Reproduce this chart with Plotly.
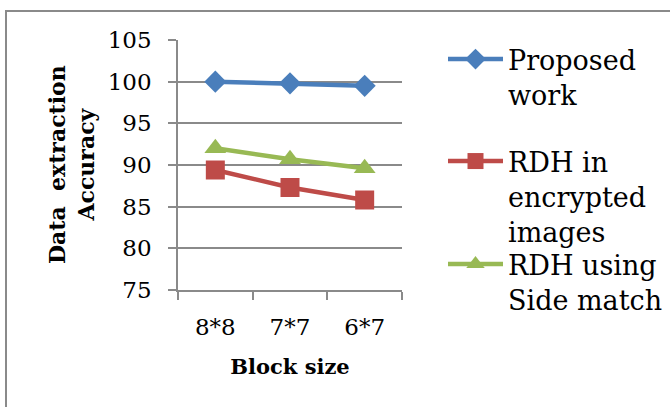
import plotly.graph_objects as go

categories = ["8*8", "7*7", "6*7"]
proposed = [100.0, 99.8, 99.5]
rdh_encrypted = [89.4, 87.3, 85.8]
rdh_side = [92.0, 90.7, 89.6]
y_ticks = [75, 80, 85, 90, 95, 100, 105]

FONT = "DejaVu Serif"
GRID = "#8a8a8a"

L, R, T, B = 178, 268, 40, 117
W, H = 670, 407
pw = W - L - R
ph = H - T - B

def px(x):
    return (x - L) / pw

def py(y):
    return (H - B - y) / ph

fig = go.Figure()
fig.add_trace(go.Scatter(x=categories, y=proposed, name="Proposed<br>work",
                         mode="lines+markers", line=dict(color="#4a7ebb", width=4.5),
                         marker=dict(symbol="diamond", size=17, color="#4a7ebb"),
                         legend="legend"))
fig.add_trace(go.Scatter(x=categories, y=rdh_encrypted, name="RDH in<br>encrypted<br>images",
                         mode="lines+markers", line=dict(color="#be4b48", width=4.5),
                         marker=dict(symbol="square", size=19, color="#be4b48"),
                         legend="legend2"))
fig.add_trace(go.Scatter(x=categories, y=rdh_side, name="RDH using<br>Side match",
                         mode="lines+markers", line=dict(color="#98b954", width=4.5),
                         marker=dict(symbol="triangle-up", size=19, color="#98b954"),
                         legend="legend3"))

leg_common = dict(font=dict(family=FONT, size=27, color="black"), valign="top",
                  xanchor="left", yanchor="top", bgcolor="rgba(0,0,0,0)",
                  itemwidth=55, tracegroupgap=0)

fig.update_layout(
    width=W, height=H,
    margin=dict(l=L, r=R, t=T, b=B, autoexpand=False),
    paper_bgcolor="white", plot_bgcolor="white",
    font=dict(family=FONT, color="black"),
    showlegend=True,
    legend=dict(x=px(443), y=py(35), **leg_common),
    legend2=dict(x=px(443), y=py(137), **leg_common),
    legend3=dict(x=px(443), y=py(240), **leg_common),
    xaxis=dict(type="category", range=[-0.5, len(categories) - 0.5],
               showgrid=False, showline=True, linecolor=GRID, linewidth=1.5,
               ticks="outside", ticklen=8, tickcolor=GRID, tickwidth=1.5, tickson="boundaries",
               tickfont=dict(family=FONT, size=23, color="black"), ticklabelstandoff=16,
               title=dict(text="<b>Block size</b>", font=dict(family=FONT, size=21, color="black"), standoff=20),
               automargin=False, fixedrange=True),
    yaxis=dict(range=[75, 105], tickvals=y_ticks, showgrid=True, gridcolor=GRID, gridwidth=1.5,
               showline=True, linecolor=GRID, linewidth=1.5, zeroline=False,
               ticks="outside", ticklen=8, tickcolor=GRID, tickwidth=1.5,
               tickfont=dict(family=FONT, size=23, color="black"), ticklabelstandoff=12,
               automargin=False, fixedrange=True),
    shapes=[dict(type="rect", xref="paper", yref="paper",
                 x0=px(6), x1=px(690), y0=py(420), y1=py(11),
                 line=dict(color=GRID, width=2), fillcolor="rgba(0,0,0,0)", layer="below")],
    annotations=[dict(text="<b>Data  extraction<br>Accuracy</b>", xref="paper", yref="paper",
                      x=px(71), y=py(165), textangle=-90, showarrow=False,
                      font=dict(family=FONT, size=22, color="black"),
                      xanchor="center", yanchor="middle", align="center")],
)

fig.write_html("out.html", config={"displayModeBar": False},
               post_script="document.body.style.margin='0';document.body.style.overflow='hidden';")
